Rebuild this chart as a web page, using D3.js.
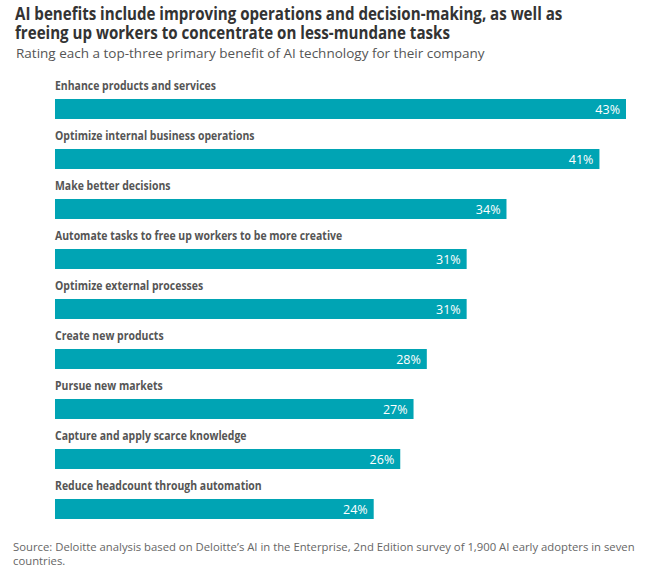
<!DOCTYPE html>
<html><head><meta charset="utf-8">
<script src="https://cdn.jsdelivr.net/npm/d3@7/dist/d3.min.js"></script>
<style>body{margin:0;background:#fff}</style>
</head><body>
<script>
const categories = ["Enhance products and services","Optimize internal business operations","Make better decisions","Automate tasks to free up workers to be more creative","Optimize external processes","Create new products","Pursue new markets","Capture and apply scarce knowledge","Reduce headcount through automation"];
const values = [43,41,34,31,31,28,27,26,24];
const titleLines = ["AI benefits include improving operations and decision-making, as well as","freeing up workers to concentrate on less-mundane tasks"];
const subtitle = "Rating each a top-three primary benefit of AI technology for their company";
const sourceLines = ["Source: Deloitte analysis based on Deloitte\u2019s AI in the Enterprise, 2nd Edition survey of 1,900 AI early adopters in seven","countries."];

const W=651,H=578;
const svg=d3.select("body").append("svg").attr("width",W).attr("height",H);
const font = "'Open Sans',sans-serif";

// Title: condensed via horizontal scale transform
const tg=svg.append("g");
const titles=tg.selectAll(".t").data(titleLines).join("text")
  .attr("x",0).attr("y",(d,i)=>19.5+i*20)
  .attr("font-family",font).attr("font-weight","bold").attr("font-size",18.5)
  .attr("fill","#333").text(d=>d);
const tf=548/titles.node().getComputedTextLength();
tg.attr("transform",`translate(15,0) scale(${tf},1)`);

svg.append("text").attr("x",16).attr("y",58).attr("font-family",font)
  .attr("font-size",13.5).attr("fill","#555").text(subtitle);

const x=d3.scaleLinear().domain([0,43]).range([55,626]);
const y=d3.scaleBand().domain(categories).range([99,519]).paddingInner(0.6).paddingOuter(0);

const lg=svg.append("g");
const labels=lg.selectAll("text").data(categories).join("text")
  .attr("x",0).attr("y",d=>y(d)-9)
  .attr("font-family",font).attr("font-weight","bold").attr("font-size",13)
  .attr("fill","#555").text(d=>d);
const lf=161/labels.node().getComputedTextLength();
lg.attr("transform",`translate(${x(0)},0) scale(${lf},1)`);

const bars=svg.append("g");
bars.selectAll("rect").data(categories).join("rect")
  .attr("x",x(0)).attr("y",d=>y(d)).attr("height",y.bandwidth())
  .attr("width",(d,i)=>x(values[i])-x(0)).attr("fill","#00a4b4");
bars.selectAll("text").data(categories).join("text")
  .attr("x",(d,i)=>x(values[i])-6).attr("y",d=>y(d)+y.bandwidth()/2+4.5)
  .attr("text-anchor","end").attr("font-family",font).attr("font-size",12.5)
  .attr("fill","#fff").text((d,i)=>values[i]+"%");

svg.selectAll(".s").data(sourceLines).join("text")
  .attr("x",13).attr("y",(d,i)=>551+i*13.5)
  .attr("font-family",font).attr("font-size",11.3).attr("fill","#666").text(d=>d);
</script>
</body></html>
